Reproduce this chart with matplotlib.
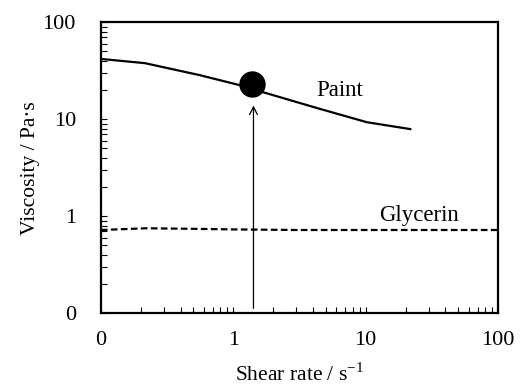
import numpy as np
import matplotlib
matplotlib.use("Agg")
import matplotlib.pyplot as plt
from matplotlib.ticker import FixedLocator, FixedFormatter, LogLocator, NullFormatter

plt.rcParams['font.family'] = ['Liberation Serif', 'DejaVu Serif']

# paint curve
paint_rate = [0.1035, 0.215, 0.56, 1.12, 1.67, 4.3, 10.2, 21.7]
paint_visc = [41.6, 37.8, 28.4, 22.4, 19.0, 13.0, 9.3, 7.9]

# glycerin curve
gly_rate = [0.1, 0.22, 0.5, 1.0, 3.0, 10.0, 100.0]
gly_visc = [0.72, 0.75, 0.74, 0.73, 0.72, 0.72, 0.72]

# marked point
pt_rate = 1.38
pt_visc = 23.0

x_ticks = [0.1, 1, 10, 100]
x_labels = ["0", "1", "10", "100"]
y_ticks = [0.1, 1, 10, 100]
y_labels = ["0", "1", "10", "100"]

fig = plt.figure(figsize=(5.2, 3.89), dpi=100)
ax = fig.add_axes([0.194, 0.195, 0.764, 0.748])

ax.plot(paint_rate, paint_visc, color='black', lw=1.6)
ax.plot(gly_rate, gly_visc, color='black', lw=1.6, ls=(0, (3, 1.5)))
ax.plot([pt_rate], [pt_visc], 'o', color='black', ms=18)
ax.annotate('', xy=(1.42, 14.8), xytext=(1.42, 0.105),
            arrowprops=dict(arrowstyle='->', color='black', lw=0.9,
                            mutation_scale=14))

ax.text(6.4, 19.9, 'Paint', fontsize=16.5, ha='center', va='center')
ax.text(25.3, 1.02, 'Glycerin', fontsize=16.5, ha='center', va='center')

ax.set_xscale('log')
ax.set_yscale('log')
ax.set_xlim(0.1, 100)
ax.set_ylim(0.1, 100)

ax.xaxis.set_major_locator(FixedLocator(x_ticks))
ax.xaxis.set_major_formatter(FixedFormatter(x_labels))
ax.yaxis.set_major_locator(FixedLocator(y_ticks))
ax.yaxis.set_major_formatter(FixedFormatter(y_labels))
ax.xaxis.set_minor_locator(LogLocator(base=10, subs=np.arange(2, 10)))
ax.yaxis.set_minor_locator(LogLocator(base=10, subs=np.arange(2, 10)))
ax.xaxis.set_minor_formatter(NullFormatter())
ax.yaxis.set_minor_formatter(NullFormatter())

ax.tick_params(which='both', direction='in', length=4, width=0.8,
               labelsize=16, top=False, right=False)
ax.tick_params(axis='x', which='major', pad=13)
ax.tick_params(axis='y', which='major', pad=18)

for s in ax.spines.values():
    s.set_linewidth(1.6)

ax.set_xlabel('Shear rate / s$^{\\mathregular{-1}}$', fontsize=15.5, labelpad=9)
ax.set_ylabel('Viscosity / Pa·s', fontsize=15.5, labelpad=2)

fig.savefig('out.png', dpi=100)
